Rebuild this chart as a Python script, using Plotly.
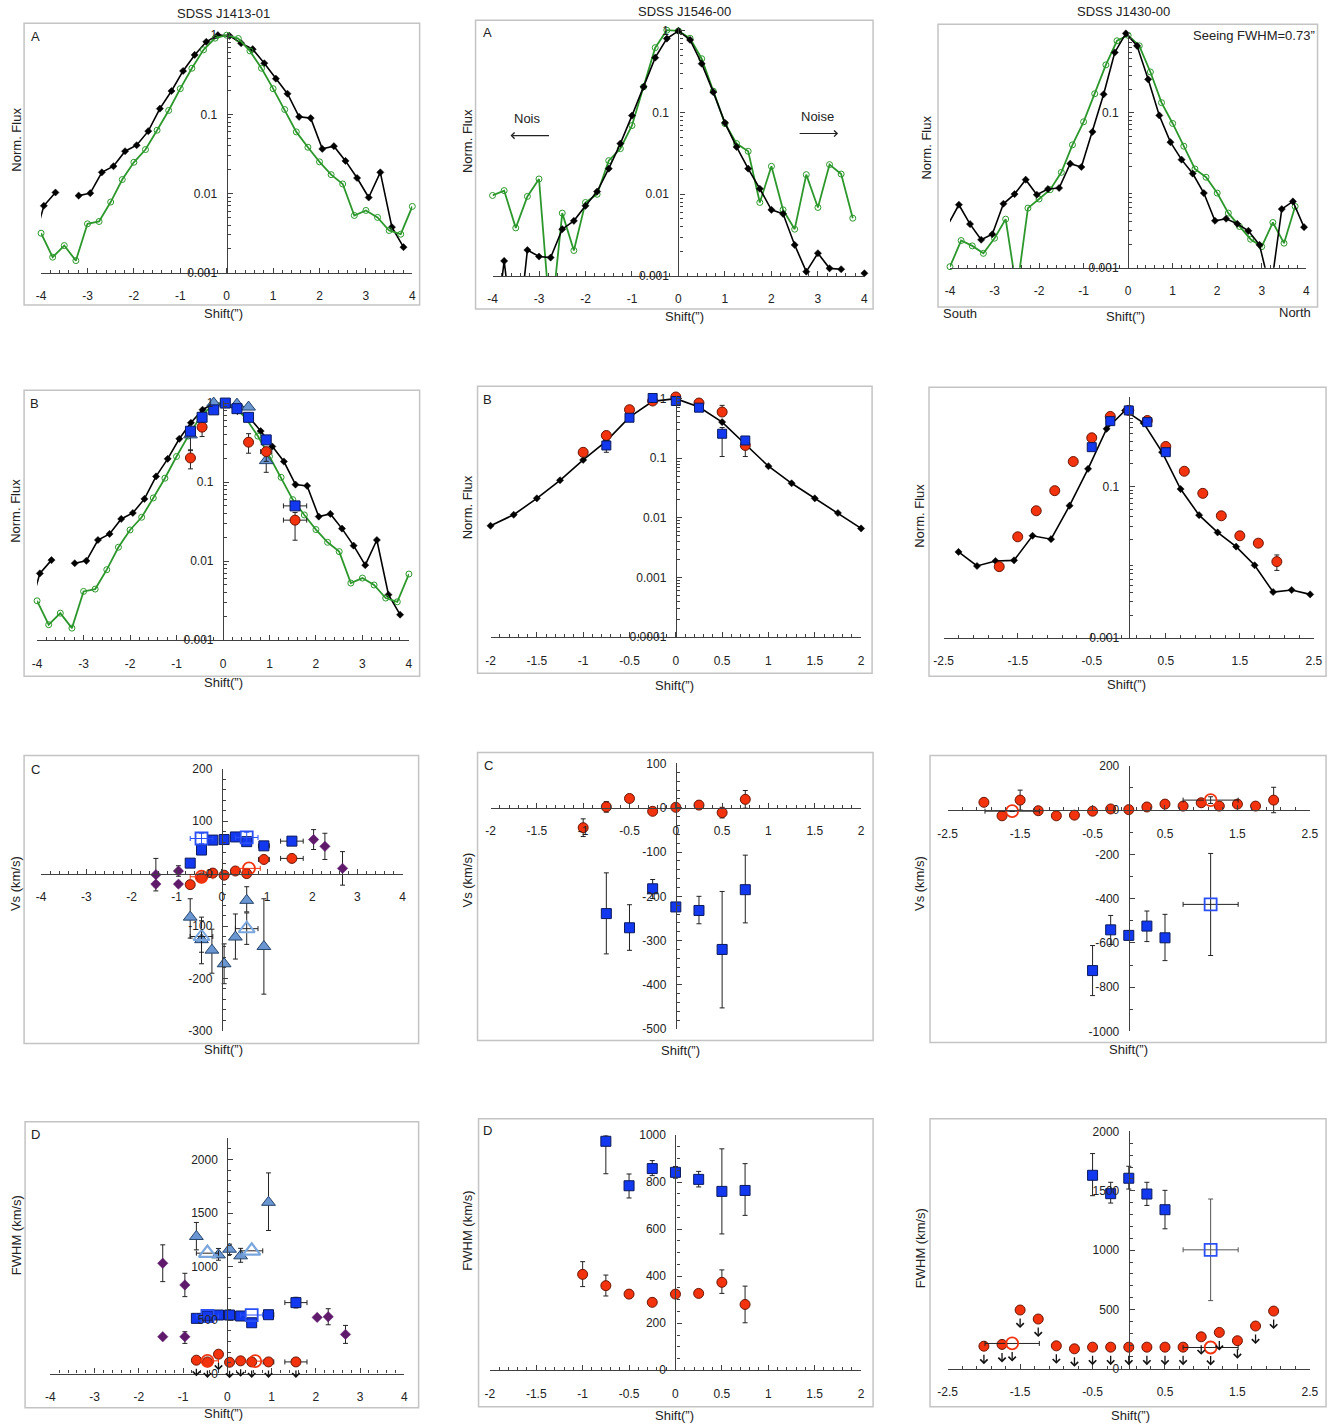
import math
import plotly.graph_objects as go

# Geometry calibration: reference pixel -> figure pixel (the rendered page shows an 8 px
# body margin and a slight overall reduction, both compensated here).
S = 0.987
OFF = 8
FW, FH = 1341, 1435
FONT = "Liberation Sans"
AXC = "#404040"


def PX(x):
    return (x / S - OFF) / FW


def PY(y):
    return 1 - (y / S - OFF) / FH


# ---------------------------------------------------------------- data
# SDSS J1413-01  (panels A and B share the two profiles)
j1413_black_x = [-4.19, -3.94, -3.69, -3.44, -3.19, -2.94, -2.69, -2.44, -2.19, -1.94, -1.69,
                 -1.44, -1.19, -0.94, -0.69, -0.44, -0.19, 0.06, 0.31, 0.56, 0.81, 1.06, 1.31,
                 1.56, 1.81, 2.06, 2.31, 2.56, 2.81, 3.06, 3.31, 3.56, 3.81]
j1413_black_y = [0.0021, 0.0070, 0.0103, None, 0.0094, 0.0101, 0.0185, 0.0221, 0.0342, 0.0407,
                 0.0613, 0.118, 0.197, 0.353, 0.563, 0.824, 1.0, 0.98, 0.792, 0.665, 0.442, 0.282,
                 0.182, 0.093, 0.0896, 0.0366, 0.0396, 0.0258, 0.0157, 0.0089, 0.0185, 0.00376, 0.0021]
j1413_green_x = [-4.0, -3.75, -3.5, -3.25, -3.0, -2.75, -2.5, -2.25, -2.0, -1.75, -1.5, -1.25, -1.0,
                 -0.75, -0.5, -0.25, 0.0, 0.25, 0.5, 0.75, 1.0, 1.25, 1.5, 1.75, 2.0, 2.25, 2.5,
                 2.75, 3.0, 3.25, 3.5, 3.75, 4.0]
j1413_green_y = [0.00315, 0.00157, 0.0022, 0.00142, 0.00414, 0.00443, 0.0078, 0.0150, 0.0248,
                 0.0359, 0.063, 0.112, 0.211, 0.382, 0.652, 0.916, 1.0, 0.907, 0.633, 0.382, 0.211,
                 0.115, 0.060, 0.0384, 0.0251, 0.0173, 0.0132, 0.00528, 0.00611, 0.00499, 0.00341,
                 0.00306, 0.00687]

# J1413 panel B measurements
j1413b_blue_x = [-0.70, -0.45, -0.20, 0.05, 0.30, 0.55, 0.93, 1.55]
j1413b_blue_y = [0.44, 0.66, 0.82, 1.0, 0.85, 0.66, 0.342, 0.050]
j1413b_blue_ex = [0, 0, 0, 0, 0, 0, 0, 0.25]
j1413b_red_x = [-0.70, -0.45, 0.55, 0.93, 1.55]
j1413b_red_y = [0.202, 0.496, 0.32, 0.243, 0.033]
j1413b_red_ep = [0.054, 0.078, 0.09, 0.03, 0.0083]
j1413b_red_em = [0.055, 0.119, 0.088, 0.06, 0.0146]
j1413b_red_ex = [0, 0, 0, 0.12, 0.25]
j1413b_tri_x = [-0.70, -0.20, 0.30, 0.55, 0.93]
j1413b_tri_y = [0.396, 1.0, 0.97, 0.89, 0.187]
j1413b_tri_ep = [0, 0, 0, 0, 0.052]
j1413b_tri_em = [0.146, 0, 0, 0, 0.054]

# J1413 panel C (velocity shift)
j1413_pos_x = [-0.70, -0.45, -0.20, 0.05, 0.30, 0.55, 0.93, 1.55]
j1413_pos_ex = [0, 0, 0, 0, 0, 0, 0.12, 0.25]
j1413c_blue_y = [20, 45, 64, 65, 70, 61, 53, 62]
j1413c_blue_e = [5, 5, 8, 5, 8, 5, 5, 8]
j1413c_red_y = [-21, -8, 1, -3, 5, 0, 27, 29]
j1413c_openblue_x = [-0.45, 0.55]
j1413c_openblue_y = [67, 69]
j1413c_openred_x = [-0.45, 0.60]
j1413c_openred_y = [-6, 10]
j1413_open_ex = [0.25, 0.25]
j1413c_purple_x = [-1.46, -1.46, -0.96, -0.96, 2.03, 2.28, 2.67]
j1413c_purple_y = [-2, -20, 5, -20, 65, 52, 10]
j1413c_purple_e = [31, 5, 10, 5, 19, 25, 32]
j1413c_tri_x = [-0.70, -0.45, -0.22, 0.05, 0.30, 0.55, 0.93]
j1413c_tri_y = [-83, -126, -146, -172, -121, -51, -139]
j1413c_tri_ep = [35, 43, 40, 38, 44, 26, 91]
j1413c_tri_em = [40, 46, 44, 38, 42, 22, 91]
j1413c_opentri_x = [-0.45, 0.55]
j1413c_opentri_y = [-120, -105]
j1413c_opentri_e = [30, 30]

# J1413 panel D (FWHM)
j1413d_tri_x = [-0.70, -0.20, 0.05, 0.30, 0.93]
j1413d_tri_y = [1281, 1109, 1162, 1100, 1600]
j1413d_tri_ep = [131, 60, 47, 70, 275]
j1413d_tri_em = [125, 50, 50, 60, 263]
j1413d_opentri_x = [-0.45, 0.55]
j1413d_opentri_y = [1125, 1147]
j1413d_purple_x = [-1.46, -0.96, -1.46, -0.96, 2.03, 2.28, 2.67]
j1413d_purple_y = [1031, 828, 344, 344, 525, 531, 366]
j1413d_purple_ep = [172, 109, 0, 47, 0, 75, 84]
j1413d_purple_em = [172, 109, 0, 62, 0, 75, 84]
j1413d_blue_y = [516, 538, 547, 547, 538, 475, 550, 663]
j1413d_blue_e = [0, 0, 0, 0, 0, 0, 0, 50]
j1413d_openblue_x = [-0.45, 0.55]
j1413d_openblue_y = [538, 547]
j1413d_red_y = [125, 109, 181, 106, 119, 109, 109, 109]
j1413d_openred_x = [-0.45, 0.63]
j1413d_openred_y = [119, 116]

# SDSS J1546-00 panel A
j1546_black_x = [-4.0, -3.75, -3.5, -3.25, -3.0, -2.75, -2.5, -2.25, -2.0, -1.75, -1.5, -1.25, -1.0,
                 -0.75, -0.5, -0.25, 0.0, 0.25, 0.5, 0.75, 1.0, 1.25, 1.5, 1.75, 2.0, 2.25, 2.5,
                 2.75, 3.0, 3.25, 3.5, 3.75, 4.0]
j1546_black_y = [0.0001, 0.00153, 0.0001, 0.00208, 0.00173, 0.00168, 0.00374, 0.00473, 0.00723,
                 0.0108, 0.0206, 0.0418, 0.092, 0.207, 0.471, 0.805, 1.0, 0.776, 0.397, 0.178,
                 0.0749, 0.038, 0.0206, 0.0117, 0.00646, 0.00577, 0.0024, 0.00113, 0.0019, 0.00124,
                 0.00121, None, 0.00108]
j1546_green_x = [-4.0, -3.75, -3.5, -3.25, -3.0, -2.75, -2.5, -2.25, -2.0, -1.75, -1.5, -1.25, -1.0,
                 -0.75, -0.5, -0.25, 0.0, 0.25, 0.5, 0.75, 1.0, 1.25, 1.5, 1.75, 2.0, 2.25, 2.5,
                 2.75, 3.0, 3.25, 3.5, 3.75]
j1546_green_y = [0.00968, 0.0111, 0.00388, 0.00942, 0.0154, 0.00025, 0.00588, 0.00205, 0.00794,
                 0.0100, 0.0258, 0.0362, 0.0695, 0.207, 0.624, 1.02, 1.0, 0.813, 0.457, 0.183,
                 0.0735, 0.0418, 0.0336, 0.00794, 0.022, 0.00646, 0.00374, 0.0174, 0.0069, 0.0231,
                 0.0177, 0.0051]

# J1546 panel B
j1546b_model_x = [-2.0, -1.75, -1.5, -1.25, -1.0, -0.75, -0.5, -0.25, 0.0, 0.25, 0.5, 0.75, 1.0,
                  1.25, 1.5, 1.75, 2.0]
j1546b_model_y = [0.00738, 0.0113, 0.0213, 0.0428, 0.094, 0.194, 0.491, 0.902, 1.0, 0.724, 0.405,
                  0.175, 0.0736, 0.0381, 0.0213, 0.0121, 0.00666]
j1546_red_x = [-1.0, -0.75, -0.5, -0.25, 0.0, 0.25, 0.5, 0.75]
j1546b_red_y = [0.126, 0.241, 0.653, 0.913, 1.067, 0.845, 0.597, 0.164]
j1546b_red_ep = [0, 0, 0, 0, 0, 0, 0.175, 0]
j1546b_red_em = [0, 0, 0, 0, 0, 0, 0, 0.057]
j1546_blue_x = [-0.75, -0.5, -0.25, 0.0, 0.25, 0.5, 0.75]
j1546b_blue_y = [0.164, 0.479, 1.026, 0.913, 0.706, 0.258, 0.199]
j1546b_blue_ep = [0.035, 0, 0, 0, 0, 0.07, 0]
j1546b_blue_em = [0.038, 0, 0, 0, 0, 0.151, 0]

# J1546 panel C
j1546c_red_y = [-45, 2, 21, -8, 1, 6, -11, 19]
j1546c_red_e = [20, 12, 5, 5, 5, 5, 12, 20]
j1546c_blue_y = [-239, -271, -183, -224, -232, -320, -185]
j1546c_blue_ep = [92, 52, 21, 8, 32, 131, 78]
j1546c_blue_em = [91, 51, 22, 8, 30, 132, 75]

# J1546 panel D
j1546d_blue_y = [974, 785, 858, 842, 812, 761, 765]
j1546d_blue_ep = [26, 50, 34, 25, 34, 181, 114]
j1546d_blue_em = [138, 52, 30, 25, 32, 181, 106]
j1546d_red_y = [408, 360, 324, 289, 324, 327, 374, 280]
j1546d_red_ep = [54, 45, 15, 10, 8, 10, 53, 78]
j1546d_red_em = [52, 44, 15, 10, 8, 10, 47, 78]

# SDSS J1430-00 panel A
j1430_black_x = [-4.05, -3.8, -3.55, -3.3, -3.05, -2.8, -2.55, -2.3, -2.05, -1.8, -1.55, -1.3,
                 -1.05, -0.8, -0.55, -0.3, -0.05, 0.2, 0.45, 0.7, 0.95, 1.2, 1.45, 1.7, 1.95,
                 2.2, 2.45, 2.7, 2.95, 3.2, 3.45, 3.7, 3.95]
j1430_black_y = [0.00354, 0.00649, 0.00365, 0.00229, 0.0027, 0.00668, 0.00891, 0.01367, 0.00874,
                 0.01035, 0.01067, 0.022, 0.01995, 0.0567, 0.173, 0.6, 1.057, 0.731, 0.27, 0.0923,
                 0.0417, 0.0248, 0.0164, 0.00918, 0.00403, 0.00428, 0.00368, 0.00299, 0.00197,
                 0.0005, 0.0057, 0.00716, 0.00333]
j1430_green_x = [-4.0, -3.75, -3.5, -3.25, -3.0, -2.75, -2.5, -2.25, -2.0, -1.75, -1.5, -1.25, -1.0,
                 -0.75, -0.5, -0.25, 0.0, 0.25, 0.5, 0.75, 1.0, 1.25, 1.5, 1.75, 2.0, 2.25, 2.5,
                 2.75, 3.0, 3.25, 3.5, 3.75]
j1430_green_y = [0.00103, 0.00224, 0.00191, 0.00153, 0.0024, 0.00423, 0.0005, 0.00587, 0.00769,
                 0.01015, 0.017, 0.0385, 0.0764, 0.176, 0.415, 0.849, 1.0, 0.731, 0.336, 0.135,
                 0.0727, 0.037, 0.0188, 0.0147, 0.00918, 0.00506, 0.0034, 0.00233, 0.00187,
                 0.00383, 0.00207, 0.00617]

# J1430 panel B
j1430b_model_x = [-2.3, -2.05, -1.8, -1.55, -1.3, -1.05, -0.8, -0.55, -0.3, -0.05, 0.2, 0.45, 0.7,
                  0.95, 1.2, 1.45, 1.7, 1.95, 2.2, 2.45]
j1430b_model_y = [0.0137, 0.00893, 0.0104, 0.0106, 0.0224, 0.0202, 0.056, 0.172, 0.582, 1.02,
                  0.693, 0.286, 0.093, 0.042, 0.0248, 0.0161, 0.00912, 0.00404, 0.0043, 0.00376]
j1430b_red_x = [-1.75, -1.5, -1.25, -1.0, -0.75, -0.5, -0.25, 0.0, 0.25, 0.5, 0.75, 1.0, 1.25, 1.5,
                1.75, 2.0]
j1430b_red_y = [0.00875, 0.0217, 0.048, 0.0885, 0.215, 0.443, 0.849, 1.02, 0.75, 0.34, 0.16,
                0.0816, 0.0412, 0.0224, 0.0179, 0.0102]
j1430b_red_ep = [0, 0, 0, 0, 0, 0, 0, 0, 0, 0, 0, 0, 0, 0, 0, 0.0023]
j1430b_red_em = [0, 0, 0, 0, 0, 0, 0, 0, 0, 0, 0, 0, 0, 0, 0, 0.0024]
j1430_blue_x = [-0.5, -0.25, 0.0, 0.25, 0.5]
j1430b_blue_y = [0.333, 0.736, 1.02, 0.714, 0.286]

# J1430 panel C
j1430_red_x = [-2.0, -1.75, -1.5, -1.25, -1.0, -0.75, -0.5, -0.25, 0.0, 0.25, 0.5, 0.75, 1.0,
               1.25, 1.5, 1.75, 2.0]
j1430c_red_y = [35, -26, 45, -3, -26, -23, -5, 5, 2, 14, 27, 18, 33, 18, 27, 18, 45]
j1430c_red_ep = [0, 0, 45, 15, 0, 0, 0, 0, 0, 0, 0, 0, 10, 0, 0, 0, 58]
j1430c_red_em = [0, 0, 45, 15, 0, 0, 0, 0, 0, 0, 0, 0, 10, 0, 0, 0, 57]
j1430_open_x = [-1.61, 1.13]
j1430_open_ex = [0.375, 0.38]
j1430c_openred_y = [-5, 45]
j1430c_openred_e = [0, 15]
j1430c_blue_y = [-725, -541, -566, -524, -577]
j1430c_blue_ep = [113, 65, 20, 68, 106]
j1430c_blue_em = [113, 66, 20, 70, 103]
j1430_openblue_x = [1.13]
j1430_openblue_ex = [0.38]
j1430c_openblue_y = [-426]
j1430c_openblue_ep = [230]
j1430c_openblue_em = [231]

# J1430 panel D
j1430d_blue_y = [1631, 1476, 1606, 1473, 1341]
j1430d_blue_ep = [183, 96, 101, 99, 163]
j1430d_blue_em = [172, 79, 91, 96, 161]
j1430d_openblue_y = [1003]
j1430d_openblue_e = [428]
j1430d_red_y = [191, 206, 496, 420, 194, 169, 183, 183, 183, 183, 183, 183, 270, 307, 237, 361, 487]
j1430d_openred_y = [214, 180]

# tick labels
xticks_8 = [-4, -3, -2, -1, 0, 1, 2, 3, 4]
xticks_4 = [-2, -1.5, -1, -0.5, 0, 0.5, 1, 1.5, 2]
xticks_5 = [-2.5, -1.5, -0.5, 0.5, 1.5, 2.5]
yticks_log3 = [0.001, 0.01, 0.1, 1]
yticks_log3_sparse = [0.001, 0.1]
yticks_log4 = [0.0001, 0.001, 0.01, 0.1, 1]
yticks_c1 = [-300, -200, -100, 0, 100, 200]
yticks_c2 = [-500, -400, -300, -200, -100, 0, 100]
yticks_c3 = [-1000, -800, -600, -400, -200, 0, 200]
yticks_d1 = [0, 500, 1000, 1500, 2000]
yticks_d2 = [0, 200, 400, 600, 800, 1000]
yticks_d3 = [0, 500, 1000, 1500, 2000]

# ---------------------------------------------------------------- layout geometry (reference pixels)
PANELS = [
    dict(xpx=(39, 410.7), ypx=(33.6, 272.7), xr=(-4, 4), yr=(-3, 0.03), log=True, xt=xticks_8, xm=0.2, yt=yticks_log3),
    dict(xpx=(491, 863.3), ypx=(29.3, 276), xr=(-4, 4), yr=(-3, 0.03), log=True, xt=xticks_8, xm=0.2, yt=yticks_log3),
    dict(xpx=(949, 1305.7), ypx=(33.0, 267.7), xr=(-4, 4), yr=(-3, 0.04), log=True, xt=xticks_8, xm=0.2, yt=yticks_log3_sparse),
    dict(xpx=(35, 407.3), ypx=(400.3, 639), xr=(-4, 4), yr=(-3, 0.03), log=True, xt=xticks_8, xm=0.2, yt=yticks_log3),
    dict(xpx=(489, 860), ypx=(395.9, 636), xr=(-2, 2), yr=(-4, 0.04), log=True, xt=xticks_4, xm=0.1, yt=yticks_log4),
    dict(xpx=(942.7, 1313.3), ypx=(396.7, 636.7), xr=(-2.5, 2.5), yr=(-3, 0.185), log=True, xt=xticks_5, xm=0.2, yt=yticks_log3_sparse),
    dict(xpx=(39, 401), ypx=(767.2, 1028.4), xr=(-4, 4), yr=(-300, 200), log=False, xt=xticks_8, xm=0.2, yt=yticks_c1, ym=20),
    dict(xpx=(489, 860), ypx=(761.9, 1026.7), xr=(-2, 2), yr=(-500, 100), log=False, xt=xticks_4, xm=0.1, yt=yticks_c2, ym=20),
    dict(xpx=(946.7, 1309.3), ypx=(764.2, 1029), xr=(-2.5, 2.5), yr=(-1000, 200), log=False, xt=xticks_5, xm=0.2, yt=yticks_c3, ym=100),
    dict(xpx=(48.3, 402.7), ypx=(1135.3, 1370), xr=(-4, 4), yr=(0, 2200), log=False, xt=xticks_8, xm=0.2, yt=yticks_d1, ym=100),
    dict(xpx=(488.3, 860), ypx=(1132.4, 1366.7), xr=(-2, 2), yr=(0, 1000), log=False, xt=xticks_4, xm=0.1, yt=yticks_d2, ym=50),
    dict(xpx=(946.7, 1309.3), ypx=(1128.7, 1365.3), xr=(-2.5, 2.5), yr=(0, 2000), log=False, xt=xticks_5, xm=0.2, yt=yticks_d3, ym=100),
]
FRAMES = [(22, 24, 418, 305), (474, 21, 872, 309), (937, 25, 1317, 307),
          (22, 390, 418, 675), (476, 386, 871, 672), (928, 387, 1325.5, 675),
          (22, 754, 417, 1041), (476, 751, 872, 1038), (929, 754, 1325.5, 1040),
          (23, 1119, 417, 1404), (477, 1116, 872, 1403), (929, 1116, 1325.5, 1403)]


def fmt(v):
    s = repr(v)
    if s.endswith('.0'):
        s = s[:-2]
    return s


def axn(i):
    return ('x' if i == 1 else f'x{i}'), ('y' if i == 1 else f'y{i}')


fig = go.Figure()
layout = {}
for i, p in enumerate(PANELS, start=1):
    sfx = '' if i == 1 else str(i)
    x0, x1 = p['xpx']
    yt_, yb_ = p['ypx']
    xr, yr = p['xr'], p['yr']
    ypos = PX(x0 + (0 - xr[0]) / (xr[1] - xr[0]) * (x1 - x0))
    nmin = int(round((xr[1] - xr[0]) / p['xm']))
    xminor = [round(xr[0] + k * p['xm'], 6) for k in range(nmin + 1)]
    xa = dict(domain=[PX(x0), PX(x1)], range=list(xr), showgrid=False, zeroline=False,
              showline=True, linecolor=AXC, linewidth=1.2, ticks='inside', ticklen=5,
              tickwidth=1, tickcolor=AXC, tickmode='array', tickvals=p['xt'],
              ticktext=[fmt(v) for v in p['xt']],
              tickfont=dict(size=12, color='#222', family=FONT), ticklabelstandoff=12,
              minor=dict(tickmode='array', tickvals=xminor, ticks='inside', ticklen=3,
                         tickwidth=1, tickcolor=AXC, showgrid=False),
              fixedrange=True)
    if (not p['log']) and yr[0] < 0 < yr[1]:
        y0px = yb_ - (0 - yr[0]) / (yr[1] - yr[0]) * (yb_ - yt_)
        xa.update(anchor='free', position=PY(y0px))
    else:
        xa.update(anchor='y' + sfx)
    ya = dict(domain=[PY(yb_), PY(yt_)], range=list(yr), showgrid=False, zeroline=False,
              showline=True, linecolor=AXC, linewidth=1.2, ticks='inside', ticklen=5,
              tickwidth=1, tickcolor=AXC, tickmode='array', tickvals=p['yt'],
              ticktext=[fmt(v) for v in p['yt']], anchor='free', position=ypos,
              tickfont=dict(size=12, color='#222', family=FONT), ticklabelstandoff=7,
              fixedrange=True)
    if p['log']:
        ya['type'] = 'log'
        mv = []
        for d in range(math.floor(yr[0]), math.ceil(yr[1]) + 1):
            for k in range(2, 10):
                v = k * 10 ** d
                if yr[0] <= math.log10(v) <= yr[1]:
                    mv.append(v)
        ya['minor'] = dict(tickmode='array', tickvals=mv, ticks='inside', ticklen=3,
                           tickwidth=1, tickcolor=AXC, showgrid=False)
    else:
        n = int(round((yr[1] - yr[0]) / p['ym']))
        mv = [yr[0] + k * p['ym'] for k in range(n + 1)]
        ya['minor'] = dict(tickmode='array', tickvals=mv, ticks='inside', ticklen=3,
                           tickwidth=1, tickcolor=AXC, showgrid=False)
    layout['xaxis' + sfx] = xa
    layout['yaxis' + sfx] = ya

# ---------------------------------------------------------------- styles
BLUE, BLUE_E = '#1238f0', '#0b1a5c'
RED, RED_E = '#f2330e', '#6a1606'
LBLUE, LBLUE_E = '#6a97d2', '#26446c'
OPEN_LB = '#7aa6de'
OPEN_BLUE = '#2a50f5'
PURPLE = '#5f1a6c'
GREEN = '#2c982c'
ERR = '#222222'


def add_points(i, x, y, sym, size, fill, edge, lw=1.0, ex=None, ey=None, eym=None, ecolor=ERR):
    xa, ya = axn(i)
    kw = {}
    if ex is not None:
        kw['error_x'] = dict(type='data', array=ex, symmetric=True, color=ecolor,
                             thickness=1, width=2.5)
    if ey is not None:
        kw['error_y'] = dict(type='data', array=ey, arrayminus=(eym if eym is not None else ey),
                             symmetric=False, color=ecolor, thickness=1, width=2.5)
    fig.add_trace(go.Scatter(x=x, y=y, mode='markers', xaxis=xa, yaxis=ya, cliponaxis=False,
                             showlegend=False, hoverinfo='skip',
                             marker=dict(symbol=sym, size=size, color=fill,
                                         line=dict(color=edge, width=lw)), **kw))


def add_curve(i, x, y, color, lw, sym, msize, mfill, medge, mlw):
    xa, ya = axn(i)
    p = PANELS[i - 1]
    fig.add_trace(go.Scatter(x=x, y=y, mode='lines', xaxis=xa, yaxis=ya, connectgaps=False,
                             line=dict(color=color, width=lw), showlegend=False,
                             hoverinfo='skip'))
    xin, yin = [], []
    for xv, yv in zip(x, y):
        if yv is None:
            continue
        lv = math.log10(yv) if p['log'] else yv
        if p['xr'][0] - 1e-9 <= xv <= p['xr'][1] + 1e-9 and p['yr'][0] - 0.02 <= lv <= p['yr'][1] + 0.02:
            xin.append(xv)
            yin.append(yv)
    fig.add_trace(go.Scatter(x=xin, y=yin, mode='markers', xaxis=xa, yaxis=ya, cliponaxis=False,
                             showlegend=False, hoverinfo='skip',
                             marker=dict(symbol=sym, size=msize, color=mfill,
                                         line=dict(color=medge, width=mlw))))


def black(i, x, y):
    add_curve(i, x, y, '#000000', 1.6, 'diamond', 5.5, '#000000', '#000000', 0.5)


def green(i, x, y):
    add_curve(i, x, y, GREEN, 1.8, 'circle-open', 6, GREEN, GREEN, 1.0)


annotations = []


def down_arrows(i, x, y, shift, length):
    xa, ya = axn(i)
    for xv, yv in zip(x, y):
        annotations.append(dict(x=xv, y=yv, xref=xa, yref=ya, text='', showarrow=True,
                                ax=0, ay=-length, arrowhead=4, arrowsize=1.1, arrowwidth=1.3,
                                arrowcolor='#111111', yshift=-shift))


# ---------------------------------------------------------------- row 1 : A
black(1, j1413_black_x, j1413_black_y)
green(1, j1413_green_x, j1413_green_y)
green(2, j1546_green_x, j1546_green_y)
black(2, j1546_black_x, j1546_black_y)
green(3, j1430_green_x, j1430_green_y)
black(3, j1430_black_x, j1430_black_y)

# ---------------------------------------------------------------- row 2 : B
black(4, j1413_black_x, j1413_black_y)
green(4, j1413_green_x, j1413_green_y)
add_points(4, j1413b_tri_x, j1413b_tri_y, 'triangle-up', 12, LBLUE, LBLUE_E, 1,
           ey=j1413b_tri_ep, eym=j1413b_tri_em)
add_points(4, j1413b_red_x, j1413b_red_y, 'circle', 10, RED, RED_E, 1,
           ex=j1413b_red_ex, ey=j1413b_red_ep, eym=j1413b_red_em)
add_points(4, j1413b_blue_x, j1413b_blue_y, 'square', 10, BLUE, BLUE_E, 1, ex=j1413b_blue_ex)

black(5, j1546b_model_x, j1546b_model_y)
add_points(5, j1546_red_x, j1546b_red_y, 'circle', 10, RED, RED_E, 1,
           ey=j1546b_red_ep, eym=j1546b_red_em)
add_points(5, j1546_blue_x, j1546b_blue_y, 'square', 9, BLUE, BLUE_E, 1,
           ey=j1546b_blue_ep, eym=j1546b_blue_em)

black(6, j1430b_model_x, j1430b_model_y)
add_points(6, j1430b_red_x, j1430b_red_y, 'circle', 10, RED, RED_E, 1,
           ey=j1430b_red_ep, eym=j1430b_red_em)
add_points(6, j1430_blue_x, j1430b_blue_y, 'square', 9, BLUE, BLUE_E, 1)

# ---------------------------------------------------------------- row 3 : C
add_points(7, j1413c_purple_x, j1413c_purple_y, 'diamond', 8, PURPLE, PURPLE, 0.5,
           ey=j1413c_purple_e)
add_points(7, j1413c_tri_x, j1413c_tri_y, 'triangle-up', 12, LBLUE, LBLUE_E, 1,
           ey=j1413c_tri_ep, eym=j1413c_tri_em)
add_points(7, j1413c_opentri_x, j1413c_opentri_y, 'triangle-up-open', 14, OPEN_LB, OPEN_LB, 2,
           ex=j1413_open_ex, ey=j1413c_opentri_e)
add_points(7, j1413_pos_x, j1413c_red_y, 'circle', 10, RED, RED_E, 1, ex=j1413_pos_ex)
add_points(7, j1413c_openred_x, j1413c_openred_y, 'circle-open', 12, RED, RED, 1.8,
           ex=j1413_open_ex, ecolor=RED)
add_points(7, j1413_pos_x, j1413c_blue_y, 'square', 10, BLUE, BLUE_E, 1, ex=j1413_pos_ex,
           ey=j1413c_blue_e)
add_points(7, j1413c_openblue_x, j1413c_openblue_y, 'square-open', 12, OPEN_BLUE, OPEN_BLUE, 1.8,
           ex=j1413_open_ex, ey=[10, 10], ecolor=OPEN_BLUE)

add_points(8, j1546_red_x, j1546c_red_y, 'circle', 10, RED, RED_E, 1, ey=j1546c_red_e)
add_points(8, j1546_blue_x, j1546c_blue_y, 'square', 10, BLUE, BLUE_E, 1,
           ey=j1546c_blue_ep, eym=j1546c_blue_em)

add_points(9, j1430_red_x, j1430c_red_y, 'circle', 10, RED, RED_E, 1,
           ey=j1430c_red_ep, eym=j1430c_red_em)
add_points(9, j1430_open_x, j1430c_openred_y, 'circle-open', 12, RED, RED, 1.8,
           ex=j1430_open_ex, ey=j1430c_openred_e)
add_points(9, j1430_blue_x, j1430c_blue_y, 'square', 10, BLUE, BLUE_E, 1,
           ey=j1430c_blue_ep, eym=j1430c_blue_em)
add_points(9, j1430_openblue_x, j1430c_openblue_y, 'square-open', 12, OPEN_BLUE, OPEN_BLUE, 1.8,
           ex=j1430_openblue_ex, ey=j1430c_openblue_ep, eym=j1430c_openblue_em)

# ---------------------------------------------------------------- row 4 : D
add_points(10, j1413d_tri_x, j1413d_tri_y, 'triangle-up', 12, LBLUE, LBLUE_E, 1,
           ey=j1413d_tri_ep, eym=j1413d_tri_em)
add_points(10, j1413d_opentri_x, j1413d_opentri_y, 'triangle-up-open', 15, OPEN_LB, OPEN_LB, 2.2,
           ex=j1413_open_ex)
add_points(10, j1413d_purple_x, j1413d_purple_y, 'diamond', 8, PURPLE, PURPLE, 0.5,
           ey=j1413d_purple_ep, eym=j1413d_purple_em)
add_points(10, j1413_pos_x, j1413d_blue_y, 'square', 10, BLUE, BLUE_E, 1, ex=j1413_pos_ex,
           ey=j1413d_blue_e)
add_points(10, j1413d_openblue_x, j1413d_openblue_y, 'square-open', 12, OPEN_BLUE, OPEN_BLUE, 1.8,
           ex=j1413_open_ex, ecolor=OPEN_BLUE)
add_points(10, j1413_pos_x, j1413d_red_y, 'circle', 10, RED, RED_E, 1, ex=j1413_pos_ex)
add_points(10, j1413d_openred_x, j1413d_openred_y, 'circle-open', 12, RED, RED, 1.8,
           ex=j1413_open_ex, ecolor=RED)
down_arrows(10, j1413_pos_x, j1413d_red_y, 16, 9)

add_points(11, j1546_blue_x, j1546d_blue_y, 'square', 10, BLUE, BLUE_E, 1,
           ey=j1546d_blue_ep, eym=j1546d_blue_em)
add_points(11, j1546_red_x, j1546d_red_y, 'circle', 10, RED, RED_E, 1,
           ey=j1546d_red_ep, eym=j1546d_red_em)

add_points(12, j1430_blue_x, j1430d_blue_y, 'square', 10, BLUE, BLUE_E, 1,
           ey=j1430d_blue_ep, eym=j1430d_blue_em)
add_points(12, j1430_openblue_x, j1430d_openblue_y, 'square-open', 12, OPEN_BLUE, OPEN_BLUE, 1.8,
           ex=j1430_openblue_ex, ey=j1430d_openblue_e, ecolor='#555555')
add_points(12, j1430_red_x, j1430d_red_y, 'circle', 10, RED, RED_E, 1)
add_points(12, j1430_open_x, j1430d_openred_y, 'circle-open', 12, RED, RED, 1.8,
           ex=j1430_open_ex)
down_arrows(12, j1430_red_x, j1430d_red_y, 18, 11)
down_arrows(12, j1430_open_x, j1430d_openred_y, 18, 11)


# ---------------------------------------------------------------- texts
def txt(xp, yp, s, size=13, xanchor='center', angle=0, color='#222'):
    annotations.append(dict(x=PX(xp), y=PY(yp), xref='paper', yref='paper', text=s,
                            showarrow=False, xanchor=xanchor, yanchor='middle',
                            textangle=angle, font=dict(size=size, color=color, family=FONT)))


txt(222, 14, 'SDSS J1413-01')
txt(683, 12, 'SDSS J1546-00')
txt(1123, 12, 'SDSS J1430-00')

for (lx, ly, s) in [(33, 37, 'A'), (486, 33, 'A'), (32, 403, 'B'), (486, 399, 'B'),
                    (33, 768, 'C'), (487, 764, 'C'), (33, 1132, 'D'), (486, 1128, 'D')]:
    txt(lx, ly, s, size=13)

for (xp, yp, s) in [(14, 140, 'Norm. Flux'), (466, 142, 'Norm. Flux'), (926, 148, 'Norm. Flux'),
                    (14, 510, 'Norm. Flux'), (466, 507, 'Norm. Flux'), (919, 515, 'Norm. Flux'),
                    (14, 882, 'Vs (km/s)'), (466, 878, 'Vs (km/s)'), (919, 882, 'Vs (km/s)'),
                    (14, 1232, 'FWHM (km/s)'), (466, 1228, 'FWHM (km/s)'), (919, 1245, 'FWHM (km/s)')]:
    txt(xp, yp, s, angle=-90)

for (xp, yp) in [(222, 313), (683, 316), (1125, 316), (222, 681), (673, 684), (1126, 683),
                 (222, 1047), (679, 1048), (1128, 1047), (222, 1410), (673, 1412), (1130, 1412)]:
    txt(xp, yp, 'Shift(\u201d)')

txt(1316, 36, 'Seeing FWHM=0.73\u201d', xanchor='right')
txt(959, 313, 'South')
txt(1294, 312, 'North')
txt(526, 119, 'Nois')
txt(816, 117, 'Noise')
annotations.append(dict(x=PX(509), y=PY(136), xref='paper', yref='paper', text='',
                        showarrow=True, ax=40, ay=0, arrowhead=4, arrowsize=1, arrowwidth=1.2,
                        arrowcolor='#222'))
annotations.append(dict(x=PX(837), y=PY(134), xref='paper', yref='paper', text='',
                        showarrow=True, ax=-40, ay=0, arrowhead=4, arrowsize=1, arrowwidth=1.2,
                        arrowcolor='#222'))

shapes = [dict(type='rect', xref='paper', yref='paper', x0=PX(a), y0=PY(d), x1=PX(c),
               y1=PY(b), line=dict(color='#c4c4c4', width=1.5), layer='below')
          for (a, b, c, d) in FRAMES]

fig.update_layout(width=FW, height=FH, margin=dict(l=0, r=0, t=0, b=0), autosize=False,
                  paper_bgcolor='white', plot_bgcolor='rgba(0,0,0,0)',
                  font=dict(family=FONT, size=12, color='#222'), showlegend=False,
                  annotations=annotations, shapes=shapes, **layout)

fig.write_html('out.html')
